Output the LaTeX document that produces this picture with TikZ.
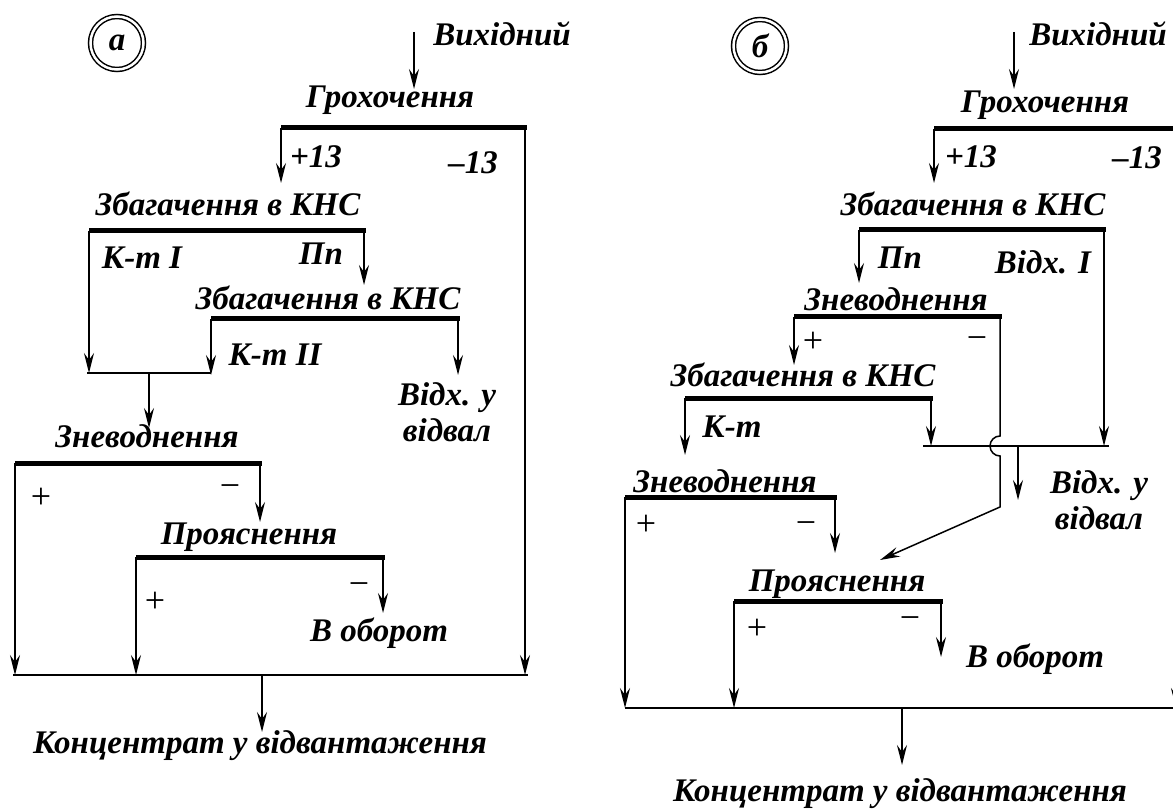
\documentclass[tikz,border=0pt]{standalone}
\usepackage{fontspec}
\setmainfont{Liberation Serif}
\usetikzlibrary{arrows.meta}

\begin{document}
\begin{tikzpicture}[x=1pt,y=-1pt,line width=1.5pt,
  bar/.style={line width=5pt},
  flow/.style={-{Stealth[length=20pt,width=10pt,inset=7pt]}},
  lbl/.style={anchor=center,inner sep=1pt,font=\fontsize{33}{36}\selectfont\bfseries\itshape},
  sgn/.style={anchor=center,inner sep=1pt,font=\fontsize{36}{38}\selectfont},
  markcirc/.style={lbl,circle,draw,double,double distance=2.5pt,minimum size=53pt,inner sep=0pt}]
\path[use as bounding box] (0,0) rectangle (1173,810);
% ---- scheme (a)
\node[markcirc] (aMark) at (117,43) {а};
\node[lbl] (aIn) at (502,34) {Вихідний};
\node[lbl] (aGr) at (390,100) {Грохочення};
\node[lbl] (aP13) at (316,157) {+13};
\node[lbl] (aM13) at (473,163) {–13};
\node[lbl] (aZ1) at (228,204) {Збагачення в КНС};
\node[lbl] (aK1) at (142,258) {К-т I};
\node[lbl] (aPp) at (321,254) {Пп};
\node[lbl] (aZ2) at (328,298) {Збагачення в КНС};
\node[lbl] (aK2) at (275,355) {К-т II};
\node[lbl,align=center] (aVd) at (447,412) {Відх. у\\відвал};
\node[lbl] (aZn) at (147,436) {Зневоднення};
\node[sgn] (aZnP) at (41,498) {+};
\node[sgn] (aZnM) at (230,491) {−};
\node[lbl] (aPr) at (249,537) {Прояснення};
\node[sgn] (aPrP) at (155,602) {+};
\node[sgn] (aPrM) at (359,589) {−};
\node[lbl] (aOb) at (379,633) {В оборот};
\node[lbl] (aKc) at (260,746) {Концентрат у відвантаження};
\coordinate (aIn0) at (414,32); \coordinate (aIn1) at (414,89);
\coordinate (aGrL) at (281,128); \coordinate (aGrR) at (525,128);
\coordinate (aZ1L) at (89,231); \coordinate (aZ1R) at (364,231);
\coordinate (aZ2L) at (211,319); \coordinate (aZ2R) at (458,319);
\coordinate (aMgL) at (87,373); \coordinate (aMgR) at (211,373);
\coordinate (aMg0) at (149,373); \coordinate (aMg1) at (149,428);
\coordinate (aZnL) at (15,463); \coordinate (aZnR) at (260,463);
\coordinate (aPrL) at (136,557); \coordinate (aPrR) at (383,557);
\coordinate (aBtL) at (13,675); \coordinate (aBtR) at (528,675);
\coordinate (aBt0) at (262,675); \coordinate (aBt1) at (262,732);
\draw[bar] (aGrL) -- ([xshift=1.5pt]aGrR);
\draw[bar] (aZ1L) -- ([xshift=1.5pt]aZ1R);
\draw[bar] (aZ2L) -- ([xshift=1.5pt]aZ2R);
\draw[bar] (aZnL) -- ([xshift=1.5pt]aZnR);
\draw[bar] (aPrL) -- ([xshift=1.5pt]aPrR);
\draw[flow] (aIn0) -- (aIn1);
\draw[flow] (aGrL) -- (aGrL |- 0,183);
\draw[flow] (aGrR) -- (aGrR |- aBtR);
\draw[flow] (aZ1L) -- (aZ1L |- aMgL);
\draw[flow] (aZ1R) -- (aZ1R |- 0,285);
\draw[flow] (aZ2L) -- (aZ2L |- 0,375);
\draw[flow] (aZ2R) -- (aZ2R |- 0,375);
\draw (aMgL) -- (aMgR);
\draw[flow] (aMg0) -- (aMg1);
\draw[flow] (aZnL) -- (aZnL |- aBtL);
\draw[flow] (aZnR) -- (aZnR |- 0,522);
\draw[flow] (aPrL) -- (aPrL |- aBtL);
\draw[flow] (aPrR) -- (aPrR |- 0,613);
\draw (aBtL) -- (aBtR);
\draw[flow] (aBt0) -- (aBt1);
% ---- scheme (b)
\node[markcirc] (bMark) at (760,46) {б};
\node[lbl] (bIn) at (1098,34) {Вихідний};
\node[lbl] (bGr) at (1045,105) {Грохочення};
\node[lbl] (bP13) at (971,157) {+13};
\node[lbl] (bM13) at (1137,158) {–13};
\node[lbl] (bZ1) at (973,204) {Збагачення в КНС};
\node[lbl] (bPp) at (900,258) {Пп};
\node[lbl] (bVd1) at (1043,262) {Відх. I};
\node[lbl] (bZn1) at (896,299) {Зневоднення};
\node[sgn] (bZn1P) at (813,342) {+};
\node[sgn] (bZn1M) at (977,343) {−};
\node[lbl] (bZ2) at (803,375) {Збагачення в КНС};
\node[lbl] (bK) at (732,427) {К-т};
\node[lbl,align=center] (bVd) at (1099,500) {Відх. у\\відвал};
\node[lbl] (bZn2) at (725,481) {Зневоднення};
\node[sgn] (bZn2P) at (646,525) {+};
\node[sgn] (bZn2M) at (806,528) {−};
\node[lbl] (bPr) at (837,584) {Прояснення};
\node[sgn] (bPrP) at (757,629) {+};
\node[sgn] (bPrM) at (910,623) {−};
\node[lbl] (bOb) at (1035,659) {В оборот};
\node[lbl] (bKc) at (900,794) {Концентрат у відвантаження};
\coordinate (bIn0) at (1014,32); \coordinate (bIn1) at (1014,89);
\coordinate (bGrL) at (934,129); \coordinate (bGrR) at (1176,129);
\coordinate (bZ1L) at (859,230); \coordinate (bZ1R) at (1104,230);
\coordinate (bZn1L) at (794,317); \coordinate (bZn1R) at (1000,317);
\coordinate (bZ2L) at (685,398); \coordinate (bZ2R) at (931,398);
\coordinate (bMgL) at (923,446); \coordinate (bMgR) at (1109,446);
\coordinate (bMg0) at (1018,446); \coordinate (bMg1) at (1018,500);
\coordinate (bCr0) at (1000,507); \coordinate (bCr1) at (880,560);
\coordinate (bZn2L) at (625,497); \coordinate (bZn2R) at (835,497);
\coordinate (bPrL) at (734,601); \coordinate (bPrR) at (941,601);
\coordinate (bBtL) at (625,708); \coordinate (bBtR) at (1180,708);
\coordinate (bBt0) at (902,708); \coordinate (bBt1) at (902,765);
\draw[bar] (bGrL) -- ([xshift=4pt]bGrR);
\draw[bar] (bZ1L) -- ([xshift=1.5pt]bZ1R);
\draw[bar] (bZn1L) -- ([xshift=1.5pt]bZn1R);
\draw[bar] (bZ2L) -- ([xshift=1.5pt]bZ2R);
\draw[bar] (bZn2L) -- ([xshift=1.5pt]bZn2R);
\draw[bar] (bPrL) -- ([xshift=1.5pt]bPrR);
\draw[flow] (bIn0) -- (bIn1);
\draw[flow] (bGrL) -- (bGrL |- 0,183);
\draw[flow] (bGrR) -- (bGrR |- bBtR);
\draw[flow] (bZ1L) -- (bZ1L |- 0,283);
\draw[flow] (bZ1R) -- (bZ1R |- bMgR);
\draw[flow] (bZn1L) -- (bZn1L |- 0,365);
\draw[flow] (bZ2L) -- (bZ2L |- 0,455);
\draw[flow] (bZ2R) -- (bZ2R |- bMgR);
\draw (bMgL) -- (bMgR);
\draw[flow] (bMg0) -- (bMg1);
\draw[flow] (bZn1R) -- (1000,436) arc[start angle=90,end angle=270,radius=10pt] -- (bCr0) -- (bCr1);
\draw[flow] (bZn2L) -- (bZn2L |- bBtL);
\draw[flow] (bZn2R) -- (bZn2R |- 0,553);
\draw[flow] (bPrL) -- (bPrL |- bBtL);
\draw[flow] (bPrR) -- (bPrR |- 0,657);
\draw (bBtL) -- (bBtR);
\draw[flow] (bBt0) -- (bBt1);
\end{tikzpicture}
\end{document}
